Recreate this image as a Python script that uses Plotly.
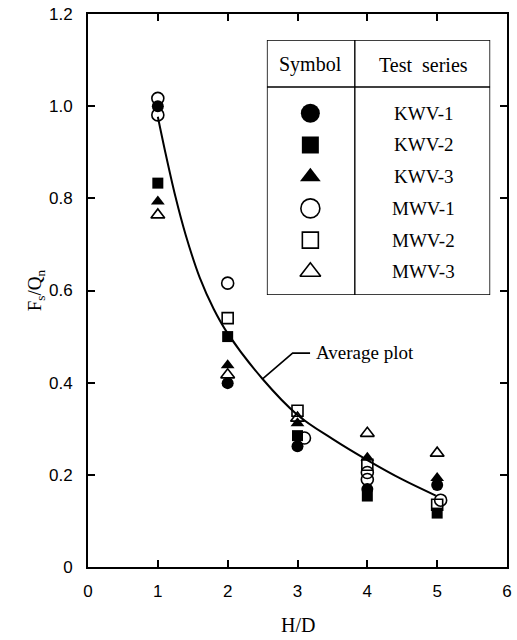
import plotly.graph_objects as go

# ---- data ----
series_names = ["KWV-1", "KWV-2", "KWV-3", "MWV-1", "MWV-2", "MWV-3"]
series_symbols = ["circle", "square", "triangle-up", "circle-open", "square-open", "triangle-up-open"]

kwv1_x = [1, 2, 3, 4, 5]
kwv1_y = [1.00, 0.399, 0.262, 0.169, 0.178]
kwv2_x = [1, 2, 3, 4, 5]
kwv2_y = [0.833, 0.500, 0.285, 0.154, 0.117]
kwv3_x = [1, 2, 3, 4, 5]
kwv3_y = [0.793, 0.438, 0.312, 0.237, 0.193]
mwv1_x = [1, 1, 2, 3.1, 4, 4, 5.05]
mwv1_y = [1.017, 0.981, 0.616, 0.280, 0.205, 0.190, 0.145]
mwv2_x = [2, 3, 4, 5]
mwv2_y = [0.540, 0.339, 0.222, 0.135]
mwv3_x = [1, 2, 3, 4, 5]
mwv3_y = [0.764, 0.417, 0.323, 0.290, 0.247]

series_x = [kwv1_x, kwv2_x, kwv3_x, mwv1_x, mwv2_x, mwv3_x]
series_y = [kwv1_y, kwv2_y, kwv3_y, mwv1_y, mwv2_y, mwv3_y]

avg_x = [1.0, 1.1, 1.25, 1.4, 1.6, 1.8, 2.0, 2.5, 3.0, 3.5, 4.0, 4.5, 4.98]
avg_y = [0.977, 0.905, 0.805, 0.720, 0.628, 0.560, 0.507, 0.408, 0.330, 0.278, 0.232, 0.190, 0.155]

x_ticks = [0, 1, 2, 3, 4, 5, 6]
x_tick_labels = ["0", "1", "2", "3", "4", "5", "6"]
y_ticks = [0, 0.2, 0.4, 0.6, 0.8, 1.0, 1.2]
y_tick_labels = ["0", "0.2", "0.4", "0.6", "0.8", "1.0", "1.2"]

SERIF = "Liberation Serif, Times New Roman, serif"
SANS = "Liberation Sans, Arial, sans-serif"

fig = go.Figure()

# average curve
fig.add_trace(go.Scatter(x=avg_x, y=avg_y, mode="lines",
                         line=dict(color="black", width=2, shape="spline", smoothing=1.0),
                         showlegend=False, hoverinfo="skip"))

def marker_style(sym, size):
    if sym.endswith("-open"):
        return dict(symbol=sym, size=size, color="black", line=dict(color="black", width=1.6))
    return dict(symbol=sym, size=size, color="black", line=dict(color="black", width=0))

for name, sym, xs, ys in zip(series_names, series_symbols, series_x, series_y):
    sz = 11 if "square" in sym else 12
    fig.add_trace(go.Scatter(x=xs, y=ys, mode="markers", name=name,
                             marker=marker_style(sym, sz), showlegend=False,
                             cliponaxis=False))

# ---- legend table drawn on an overlay axis in box-pixel units ----
BOX_W, BOX_H = 226, 255
HEADER_Y = 47
DIV_X = 89
SYM_X, TXT_X = 44, 158
ROW0, ROW_STEP = 73.3, 31.7
row_y = [ROW0 + i * ROW_STEP for i in range(len(series_names))]

for i, (name, sym) in enumerate(zip(series_names, series_symbols)):
    sz = {"circle": 19, "square": 17, "triangle-up": 18,
          "circle-open": 19, "square-open": 16, "triangle-up-open": 18}[sym]
    fig.add_trace(go.Scatter(x=[SYM_X], y=[row_y[i]], mode="markers",
                             marker=marker_style(sym, sz), xaxis="x2", yaxis="y2",
                             showlegend=False, hoverinfo="skip", cliponaxis=False))
    fig.add_annotation(x=TXT_X, y=row_y[i], xref="x2", yref="y2", text=name,
                       showarrow=False, font=dict(family=SERIF, size=19, color="black"))

fig.add_annotation(x=SYM_X, y=25, xref="x2", yref="y2", text="Symbol", showarrow=False,
                   font=dict(family=SERIF, size=20, color="black"))
fig.add_annotation(x=TXT_X, y=25, xref="x2", yref="y2", text="Test&nbsp;&nbsp;series", showarrow=False,
                   font=dict(family=SERIF, size=20, color="black"))

shapes = [
    dict(type="rect", xref="x2", yref="y2", x0=0, y0=0, x1=BOX_W, y1=BOX_H,
         line=dict(color="black", width=1.6)),
    dict(type="line", xref="x2", yref="y2", x0=0, y0=HEADER_Y, x1=BOX_W, y1=HEADER_Y,
         line=dict(color="black", width=1.4)),
    dict(type="line", xref="x2", yref="y2", x0=DIV_X, y0=0, x1=DIV_X, y1=BOX_H,
         line=dict(color="black", width=1.4)),
    # leader line for "Average plot"
    dict(type="path", xref="x", yref="y",
         path="M 2.50,0.408 L 2.93,0.464 L 3.18,0.464",
         line=dict(color="black", width=1.6)),
]

fig.add_annotation(x=3.24, y=0.466, xref="x", yref="y", text="Average plot",
                   showarrow=False, xanchor="left",
                   font=dict(family=SERIF, size=19, color="black"))

# axis titles
fig.add_annotation(x=0.5, y=-0.105, xref="paper", yref="paper", yanchor="middle",
                   text="H/D", showarrow=False,
                   font=dict(family=SERIF, size=20, color="black"))
fig.add_annotation(x=-0.158, y=0.50, xref="paper", yref="paper", textangle=-90,
                   text="F<sub>s</sub>/Q<sub>n</sub>", showarrow=False,
                   font=dict(family=SERIF, size=19, color="black"))

axis_common = dict(showline=True, linecolor="black", linewidth=2, mirror="ticks",
                   ticks="inside", ticklen=7, tickwidth=2, tickcolor="black",
                   showgrid=False, zeroline=False,
                   tickfont=dict(family=SANS, size=17, color="black"))

fig.update_layout(
    width=517, height=640,
    margin=dict(l=88, r=5, t=14, b=73),
    paper_bgcolor="white", plot_bgcolor="white",
    shapes=shapes,
    xaxis=dict(range=[0, 6], tickvals=x_ticks, ticktext=x_tick_labels,
               ticklabelstandoff=8, **axis_common),
    yaxis=dict(range=[0, 1.2], tickvals=y_ticks, ticktext=y_tick_labels,
               ticklabelstandoff=10, **axis_common),
    xaxis2=dict(domain=[0.4269, 0.9599], range=[0, BOX_W], visible=False,
                anchor="y2"),
    yaxis2=dict(domain=[0.4919, 0.953], range=[BOX_H, 0], visible=False,
                anchor="x2"),
)

fig.write_html("out.html")
